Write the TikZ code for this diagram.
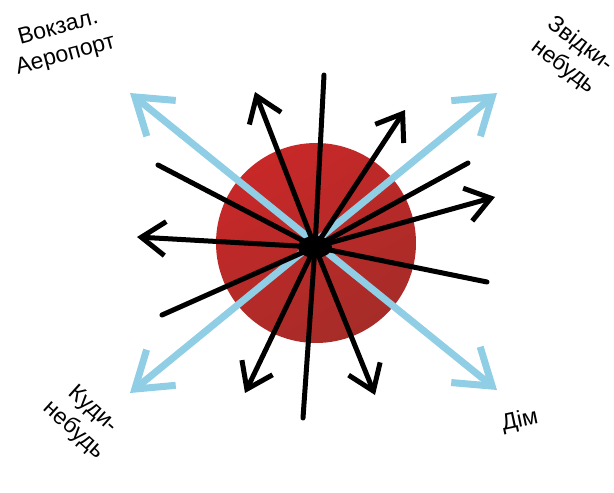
\documentclass[tikz,border=0pt]{standalone}
\usepackage{fontspec}
\setmainfont{Liberation Sans}
\usetikzlibrary{arrows.meta}
\definecolor{ballred}{RGB}{200,40,40}
\definecolor{balldark}{RGB}{166,44,40}
\definecolor{skyblue}{RGB}{143,206,228}

\begin{document}
\begin{tikzpicture}[x=1pt,y=-1pt]
  \tikzset{spoke/.style = {line width=5pt,line cap=round,black},
           arrowspoke/.style = {spoke,-{Straight Barb[length=24pt,width=34pt]}},
           bluearrow/.style = {line width=7pt,skyblue,{Straight Barb[length=34pt,width=46pt]}-{Straight Barb[length=34pt,width=46pt]}},
           placelabel/.style = {font=\fontsize{23}{28}\selectfont,align=center,inner sep=0pt}}
  \useasboundingbox (0,0) rectangle (614,493);
  % centre of the star
  \coordinate (C) at (315,247);
  \shade[top color=ballred,bottom color=balldark,shading angle=30] (316,243) circle[radius=100pt];
  % blue diagonals
  \coordinate (BUL) at (130,93);
  \coordinate (BLR) at (497,390);
  \coordinate (BUR) at (497,93);
  \coordinate (BLL) at (130,393);
  \draw[bluearrow] (BUL) -- (BLR);
  \draw[bluearrow] (BLL) -- (BUR);
  % plain spokes
  \coordinate (T) at (324,75);
  \coordinate (B) at (303,418);
  \coordinate (PUL) at (158,165);
  \coordinate (PLR) at (487,282);
  \coordinate (PLL) at (162,315);
  \coordinate (PUR) at (468,163);
  \foreach \p in {T,B,PUL,PLR,PLL,PUR}
    \draw[spoke] (C) -- (\p);
  % spokes with arrows
  \coordinate (AUL) at (255,92);
  \coordinate (ALR) at (375,395);
  \coordinate (AUR) at (405,110);
  \coordinate (ALL) at (245,393);
  \coordinate (AL) at (137,237);
  \coordinate (AR) at (495,197);
  \foreach \p in {AUL,ALR,AUR,ALL,AL,AR}
    \draw[arrowspoke] (C) -- (\p);
  \fill (C) ellipse[x radius=17pt,y radius=11pt];
  % places
  \node[placelabel,rotate=15] (vokzal) at (62,42) {Вокзал.\\Аеропорт};
  \node[placelabel,rotate=-37] (zvidky) at (572,56) {Звідки-\\небудь};
  \node[placelabel,rotate=-42] (kudy) at (83,420) {Куди-\\небудь};
  \node[placelabel,rotate=12] (dim) at (520,421) {Дім};
\end{tikzpicture}
\end{document}
